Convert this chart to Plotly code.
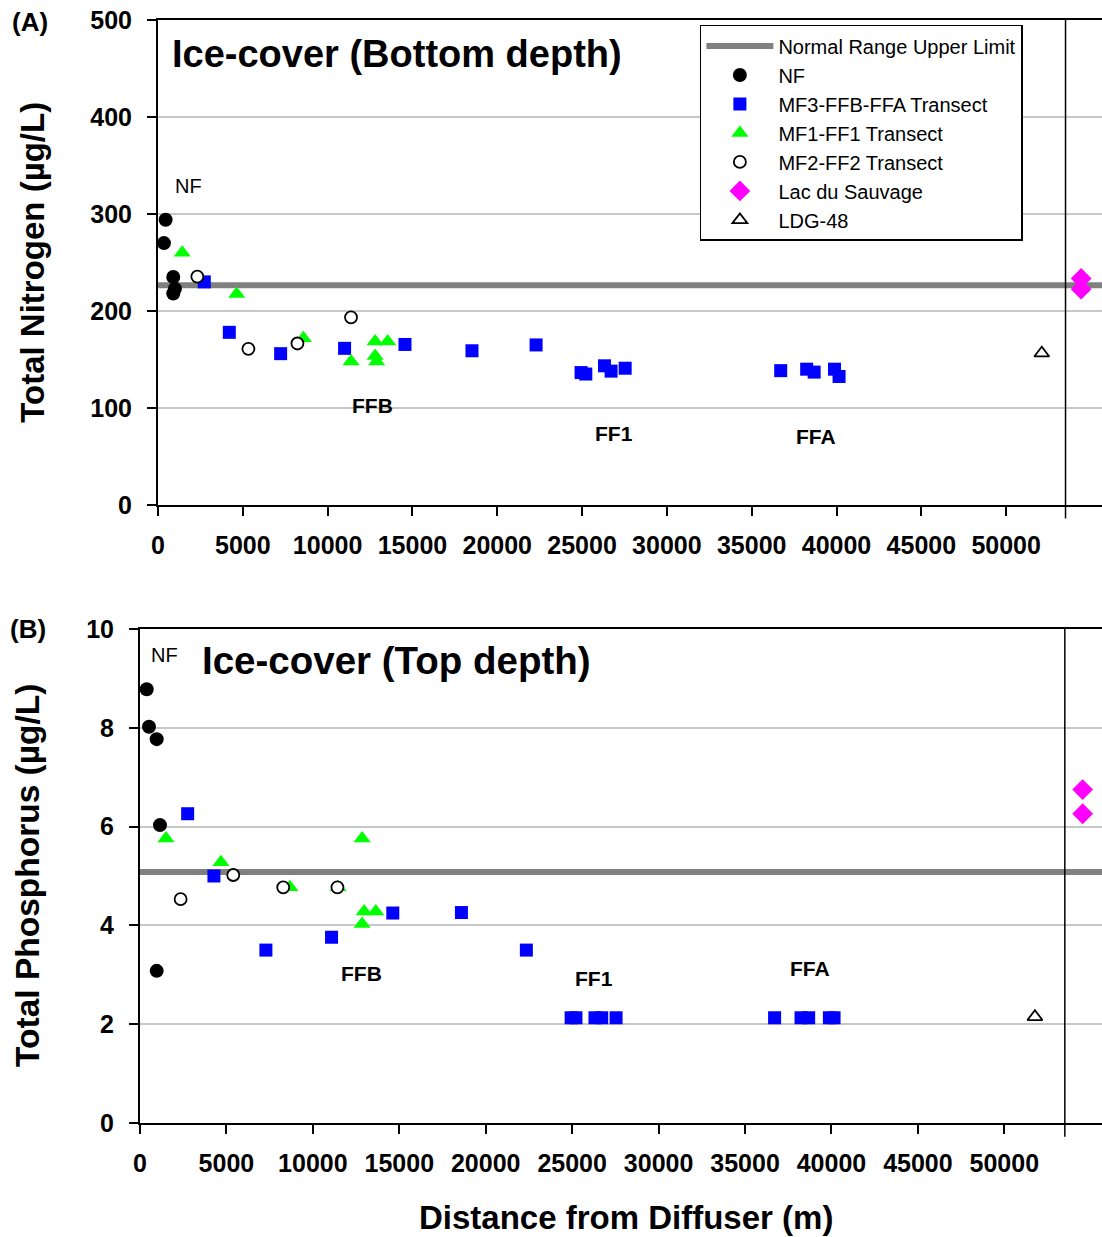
import plotly.graph_objects as go

# ---------------- data ----------------
# Panel A: Total Nitrogen (ug/L), ice-cover bottom depth
nf_x_tn = [350, 450, 900, 900, 1000]
nf_tn = [270, 294, 235, 218, 223]

mf3_x_tn = [2730, 4205, 7230, 11000, 14560, 18510, 22290, 24940, 25220, 26320,
            26710, 27540, 36710, 38240, 38680, 39880, 40150]
mf3_tn = [230, 178, 156, 161.5, 165.5, 159, 165, 136.5, 135, 143.5,
          138, 141, 138.5, 140, 137, 140, 132.5]

mf1_x_tn = [1430, 4640, 8570, 11380, 12800, 12890, 12800, 13540]
mf1_tn = [260, 217.5, 172, 148, 168.5, 148, 153.5, 168.5]

mf2_x_tn = [2320, 5330, 8220, 11380]
mf2_tn = [235.5, 161, 166.5, 193.5]

lds_x_tn = [54420, 54420]
lds_tn = [233.5, 222.5]

ldg_x_tn = [52100]
ldg_tn = [156.5]

tn_limit = 226.5

# Panel B: Total Phosphorus (ug/L), ice-cover top depth
nf_x_tp = [387, 520, 965, 1156, 965]
nf_tp = [8.78, 8.02, 7.77, 6.03, 3.08]

mf3_x_tp = [2757, 4277, 7283, 11080, 14624, 18594, 22350, 24940, 25220, 26320,
            26710, 27540, 36710, 38240, 38680, 39880, 40150]
mf3_tp = [6.26, 5.0, 3.5, 3.76, 4.25, 4.26, 3.5, 2.13, 2.13, 2.13,
          2.13, 2.13, 2.13, 2.13, 2.13, 2.13, 2.13]

mf1_x_tp = [1503, 4682, 8670, 11460, 12850, 12850, 12965, 13640]
mf1_tp = [5.76, 5.28, 4.77, 4.77, 5.76, 4.03, 4.28, 4.28]

mf2_x_tp = [2350, 5395, 8285, 11420]
mf2_tp = [4.53, 5.02, 4.77, 4.77]

lds_x_tp = [54530, 54530]
lds_tp = [6.75, 6.26]

ldg_x_tp = [51770]
ldg_tp = [2.15]

tp_limit = 5.08

x_max = 55650
break_x = 53500
x_ticks = [0, 5000, 10000, 15000, 20000, 25000, 30000, 35000, 40000, 45000, 50000]

# ---------------- figure ----------------
FONT = "Liberation Sans, Arial, sans-serif"
fig = go.Figure()


def add_panel(xa, ya, limit, nf, mf3, mf1, mf2, lds, ldg, show):
    fig.add_trace(go.Scatter(x=[0, x_max], y=[limit, limit], mode="lines",
                             line=dict(color="#808080", width=6),
                             name="Normal Range Upper Limit", showlegend=show,
                             xaxis=xa, yaxis=ya))
    fig.add_trace(go.Scatter(x=nf[0], y=nf[1], mode="markers", name="NF",
                             marker=dict(symbol="circle", size=14, color="black"),
                             showlegend=show, cliponaxis=False, xaxis=xa, yaxis=ya))
    fig.add_trace(go.Scatter(x=mf3[0], y=mf3[1], mode="markers", name="MF3-FFB-FFA Transect",
                             marker=dict(symbol="square", size=13, color="#0000FF"),
                             showlegend=show, cliponaxis=False, xaxis=xa, yaxis=ya))
    fig.add_trace(go.Scatter(x=mf1[0], y=mf1[1], mode="markers", name="MF1-FF1 Transect",
                             marker=dict(symbol="triangle-up", size=15, color="#00FF00"),
                             showlegend=show, cliponaxis=False, xaxis=xa, yaxis=ya))
    fig.add_trace(go.Scatter(x=mf2[0], y=mf2[1], mode="markers", name="MF2-FF2 Transect",
                             marker=dict(symbol="circle", size=12, color="white",
                                         line=dict(color="black", width=1.8)),
                             showlegend=show, cliponaxis=False, xaxis=xa, yaxis=ya))
    fig.add_trace(go.Scatter(x=lds[0], y=lds[1], mode="markers", name="Lac du Sauvage",
                             marker=dict(symbol="diamond", size=16, color="#FF00FF"),
                             showlegend=show, cliponaxis=False, xaxis=xa, yaxis=ya))
    fig.add_trace(go.Scatter(x=ldg[0], y=ldg[1], mode="markers", name="LDG-48",
                             marker=dict(symbol="triangle-up", size=13, color="white",
                                         line=dict(color="black", width=1.8)),
                             showlegend=show, cliponaxis=False, xaxis=xa, yaxis=ya))


add_panel("x", "y", tn_limit, (nf_x_tn, nf_tn), (mf3_x_tn, mf3_tn), (mf1_x_tn, mf1_tn),
          (mf2_x_tn, mf2_tn), (lds_x_tn, lds_tn), (ldg_x_tn, ldg_tn), True)
add_panel("x2", "y2", tp_limit, (nf_x_tp, nf_tp), (mf3_x_tp, mf3_tp), (mf1_x_tp, mf1_tp),
          (mf2_x_tp, mf2_tp), (lds_x_tp, lds_tp), (ldg_x_tp, ldg_tp), False)

tickfont = dict(family=FONT, size=25, color="black", weight="bold")
xcommon = dict(range=[0, x_max], tickvals=x_ticks, ticktext=[str(v) for v in x_ticks],
               ticks="outside", ticklen=9, tickwidth=2, tickcolor="black",
               showline=True, linecolor="black", linewidth=2, mirror=True,
               showgrid=False, zeroline=False, tickfont=tickfont, ticklabelstandoff=8)
ycommon = dict(ticks="outside", ticklen=9, tickwidth=2, tickcolor="black",
               showline=True, linecolor="black", linewidth=2,
               showgrid=True, gridcolor="#c8c8c8", gridwidth=2, zeroline=False,
               tickfont=tickfont, ticklabelstandoff=10)

fig.update_layout(
    width=1102, height=1237,
    margin=dict(l=140, r=0, t=20, b=114),
    plot_bgcolor="white", paper_bgcolor="white",
    font=dict(family=FONT, color="black"),
    xaxis=dict(domain=[0.0187, 1], anchor="y", **xcommon),
    yaxis=dict(domain=[0.5603, 1], anchor="x", range=[0, 500], dtick=100, **ycommon),
    xaxis2=dict(domain=[0, 1], anchor="y2", **xcommon),
    yaxis2=dict(domain=[0, 0.4479], anchor="x2", range=[0, 10], dtick=2, **ycommon),
    legend=dict(x=0.582, y=0.9955, xanchor="left", yanchor="top",
                bgcolor="white", bordercolor="black", borderwidth=1.5,
                font=dict(family=FONT, size=20, color="black"),
                itemwidth=67, tracegroupgap=0),
    showlegend=True,
)

# break line near right end
for xr, yr in (("x", "y domain"), ("x2", "y2 domain")):
    fig.add_shape(type="line", xref=xr, yref=yr, x0=break_x, x1=break_x, y0=-0.028, y1=1,
                  line=dict(color="black", width=1.5))

ann = []


def txt(text, x, y, xref, yref, size, bold=False, xanchor="center", angle=0):
    ann.append(dict(text=text, x=x, y=y, xref=xref, yref=yref, showarrow=False,
                    xanchor=xanchor, yanchor="middle", textangle=angle,
                    font=dict(family=FONT, size=size, color="black",
                              weight="bold" if bold else "normal")))


# panel A
txt("Ice-cover (Bottom depth)", 708, 465, "x", "y", 38, True, "left")
txt("NF", 1770, 329, "x", "y", 20)
txt("FFB", 12620, 103, "x", "y", 21, True)
txt("FF1", 26890, 74, "x", "y", 21, True)
txt("FFA", 38800, 71, "x", "y", 21, True)
# panel B
txt("Ice-cover (Top depth)", 3468, 9.37, "x2", "y2", 38.5, True, "left")
txt("NF", 1445, 9.47, "x2", "y2", 20)
txt("FFB", 12830, 3.02, "x2", "y2", 21, True)
txt("FF1", 26240, 2.92, "x2", "y2", 21, True)
txt("FFA", 38730, 3.12, "x2", "y2", 21, True)
# panel letters and axis titles
txt("(A)", -0.1143, 0.998, "paper", "paper", 26, True)
txt("(B)", -0.1164, 0.4479, "paper", "paper", 26, True)
txt("Total Nitrogen (µg/L)", -0.1112, 0.78, "paper", "paper", 33, True, angle=-90)
txt("Total Phosphorus (µg/L)", -0.1164, 0.224, "paper", "paper", 33.5, True, angle=-90)
txt("Distance from Diffuser (m)", 0.505, -0.0861, "paper", "paper", 33, True)

fig.update_layout(annotations=ann)
fig.write_html("out.html")
